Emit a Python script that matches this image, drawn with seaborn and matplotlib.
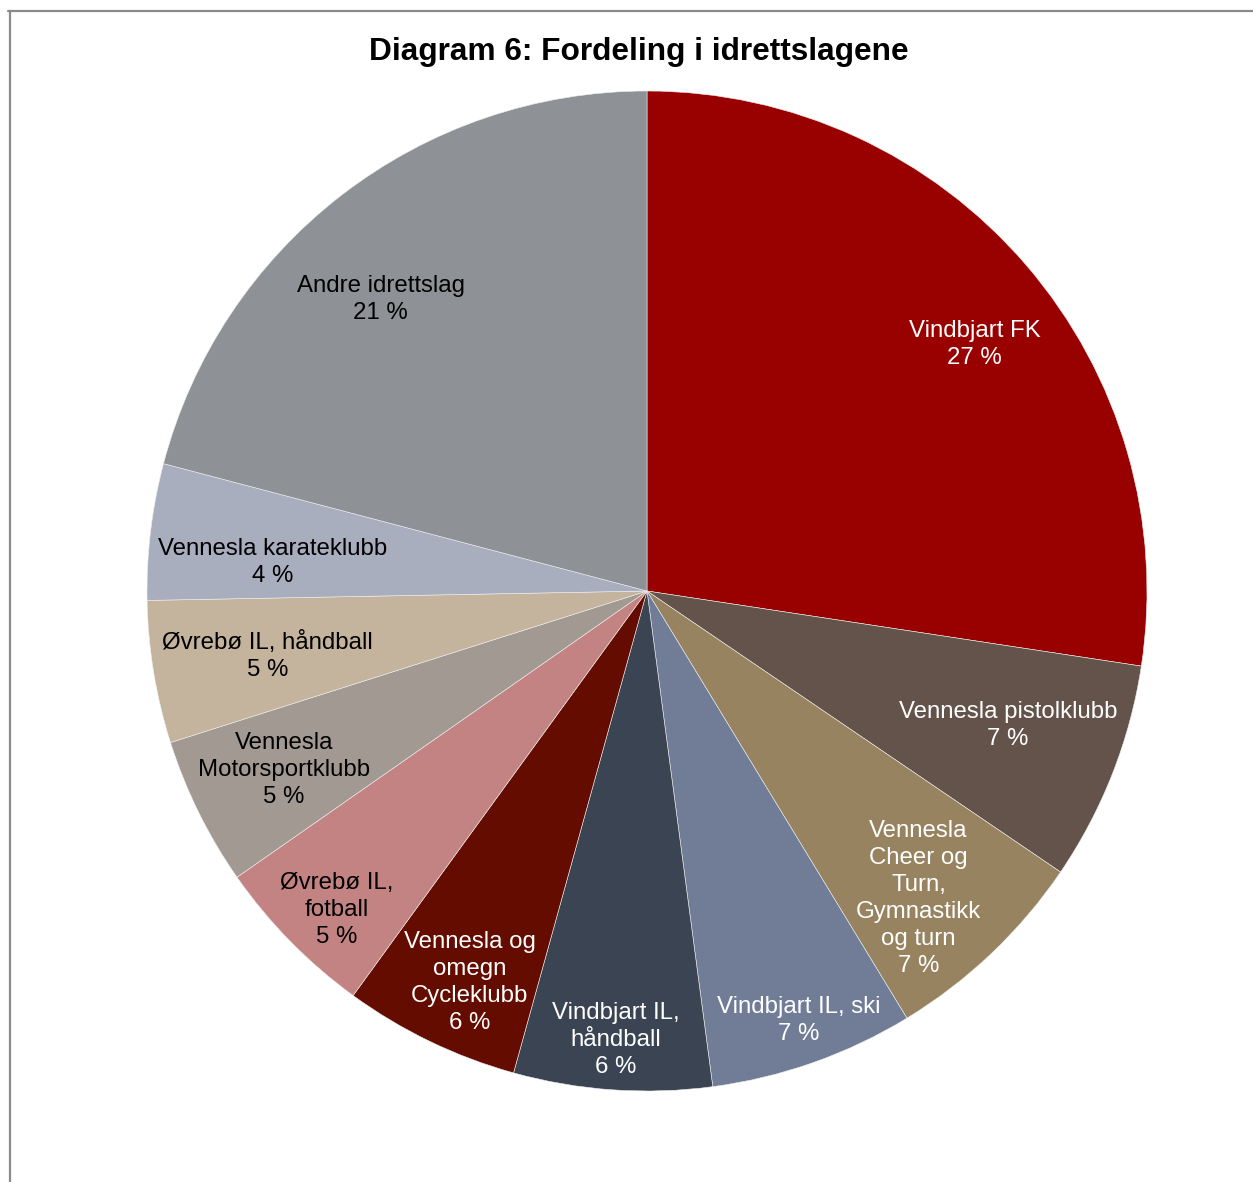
import numpy as np
import matplotlib
matplotlib.use("Agg")
import matplotlib.pyplot as plt
import seaborn as sns
from matplotlib.lines import Line2D

# ---------------------------------------------------------------------
# DATA
# ---------------------------------------------------------------------
klubber = [
    "Vindbjart FK",
    "Vennesla pistolklubb",
    "Vennesla\nCheer og\nTurn,\nGymnastikk\nog turn",
    "Vindbjart IL, ski",
    "Vindbjart IL,\nhåndball",
    "Vennesla og\nomegn\nCycleklubb",
    "Øvrebø IL,\nfotball",
    "Vennesla\nMotorsportklubb",
    "Øvrebø IL, håndball",
    "Vennesla karateklubb",
    "Andre idrettslag",
]
andel = [27.4, 7.1, 6.8, 6.6, 6.4, 5.7, 5.3, 4.8, 4.6, 4.4, 20.9]

farger = ["#990000", "#63534b", "#97835f", "#717d96", "#3a4452", "#650c00",
          "#c38383", "#a29993", "#c4b49e", "#a9aebf", "#8e9196"]
tekstfarge = ["white", "white", "white", "white", "white", "white",
              "black", "black", "black", "black", "black"]
# etikettplassering: avstand fra sentrum (andel av radius) og vinkeljustering (grader, med klokka)
etikett_r = [0.82, 0.77, 0.82, 0.91, 0.90, 0.86, 0.89, 0.81, 0.77, 0.75, 0.79]
etikett_dv = [3.7, -1.0, 2.1, 0.0, 0.0, -1.4, -1.4, 0.0, -0.4, -2.5, -4.8]

# ---------------------------------------------------------------------
# FIGUR
# ---------------------------------------------------------------------
sns.set_theme(style="white")
plt.rcParams["font.family"] = ["Liberation Sans", "DejaVu Sans"]

W, H = 1253, 1182
fig = plt.figure(figsize=(W / 100, H / 100), dpi=100)
fig.patch.set_facecolor("white")

# kakediagram: sentrum (647, 591), radius 500 px
cx, cy, r = 647, 591, 500
ax = fig.add_axes([(cx - r) / W, (H - cy - r) / H, 2 * r / W, 2 * r / H])

wedges, _ = ax.pie(andel, colors=farger, startangle=90, counterclock=False,
                   radius=1.0, wedgeprops=dict(edgecolor="#eeeeee", linewidth=0.4))
ax.set_xlim(-1, 1)
ax.set_ylim(-1, 1)
ax.set_aspect("auto")
ax.axis("off")

for w, navn, v, f, rr, dv in zip(wedges, klubber, andel, tekstfarge, etikett_r, etikett_dv):
    mid = np.deg2rad((w.theta1 + w.theta2) / 2 - dv)
    ax.text(rr * np.cos(mid), rr * np.sin(mid), f"{navn}\n{round(v)} %",
            ha="center", va="center", color=f, fontsize=17.3, linespacing=1.3)

# tittel
fig.text(639 / W, 1 - 52 / H, "Diagram 6: Fordeling i idrettslagene",
         ha="center", va="center", fontsize=22.8, fontweight="bold", color="black")

# ramme (topp og venstre kant)
fig.add_artist(Line2D([8 / W, 1], [1 - 11 / H, 1 - 11 / H], transform=fig.transFigure,
                      color="#8a8a8a", linewidth=1.6))
fig.add_artist(Line2D([10 / W, 10 / W], [0, 1 - 11 / H], transform=fig.transFigure,
                      color="#8a8a8a", linewidth=1.6))

fig.savefig("out.png", dpi=100, facecolor="white")
